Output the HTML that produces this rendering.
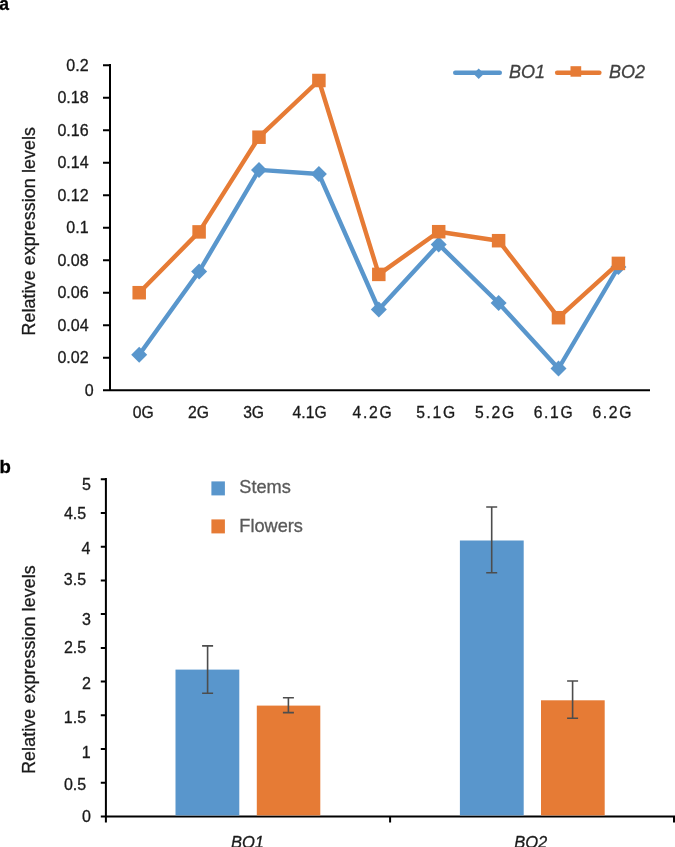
<!DOCTYPE html>
<html><head><meta charset="utf-8"><style>
html,body{margin:0;padding:0;background:#fff;}
body{width:675px;height:847px;overflow:hidden;}
text{stroke-width:0.3px;}
svg{display:block;will-change:transform;font-family:"Liberation Sans",sans-serif;}
</style></head><body>
<svg width="675" height="847" viewBox="0 0 675 847">
<text x="-0.7" y="9.6" font-size="17.5" font-weight="bold" fill="#000" stroke="#000">a</text>
<path d="M110.0 64.1V390.2M103 390.2H650" stroke="#000" stroke-width="2" fill="none"/>
<path d="M103 357.7H110.0M103 325.2H110.0M103 292.7H110.0M103 260.2H110.0M103 227.7H110.0M103 195.2H110.0M103 162.7H110.0M103 130.2H110.0M103 97.7H110.0M103 65.2H110.0" stroke="#000" stroke-width="2" fill="none"/>
<text x="93.6" y="395.9" font-size="16" text-anchor="end" fill="#1a1a1a" stroke="#1a1a1a">0</text>
<text x="88.6" y="363.4" font-size="16" text-anchor="end" fill="#1a1a1a" stroke="#1a1a1a">0.02</text>
<text x="88.6" y="330.9" font-size="16" text-anchor="end" fill="#1a1a1a" stroke="#1a1a1a">0.04</text>
<text x="88.6" y="298.4" font-size="16" text-anchor="end" fill="#1a1a1a" stroke="#1a1a1a">0.06</text>
<text x="88.6" y="265.9" font-size="16" text-anchor="end" fill="#1a1a1a" stroke="#1a1a1a">0.08</text>
<text x="88.6" y="233.4" font-size="16" text-anchor="end" fill="#1a1a1a" stroke="#1a1a1a">0.1</text>
<text x="88.6" y="200.9" font-size="16" text-anchor="end" fill="#1a1a1a" stroke="#1a1a1a">0.12</text>
<text x="88.6" y="168.4" font-size="16" text-anchor="end" fill="#1a1a1a" stroke="#1a1a1a">0.14</text>
<text x="88.6" y="135.9" font-size="16" text-anchor="end" fill="#1a1a1a" stroke="#1a1a1a">0.16</text>
<text x="88.6" y="103.4" font-size="16" text-anchor="end" fill="#1a1a1a" stroke="#1a1a1a">0.18</text>
<text x="88.6" y="70.9" font-size="16" text-anchor="end" fill="#1a1a1a" stroke="#1a1a1a">0.2</text>
<text x="143.3" y="418.0" font-size="15.7" text-anchor="middle" fill="#1a1a1a" stroke="#1a1a1a">0G</text>
<text x="198.5" y="418.0" font-size="15.7" text-anchor="middle" fill="#1a1a1a" stroke="#1a1a1a">2G</text>
<text x="253.6" y="418.0" font-size="15.7" text-anchor="middle" fill="#1a1a1a" stroke="#1a1a1a">3G</text>
<text x="309.6" y="418.0" font-size="15.7" text-anchor="middle" fill="#1a1a1a" stroke="#1a1a1a">4.1G</text>
<text x="372.1" y="418.0" font-size="15.7" text-anchor="middle" fill="#1a1a1a" stroke="#1a1a1a" textLength="39" lengthAdjust="spacing">4.2G</text>
<text x="435.7" y="418.0" font-size="15.7" text-anchor="middle" fill="#1a1a1a" stroke="#1a1a1a" textLength="39" lengthAdjust="spacing">5.1G</text>
<text x="494.6" y="418.0" font-size="15.7" text-anchor="middle" fill="#1a1a1a" stroke="#1a1a1a" textLength="39" lengthAdjust="spacing">5.2G</text>
<text x="553.2" y="418.0" font-size="15.7" text-anchor="middle" fill="#1a1a1a" stroke="#1a1a1a" textLength="39" lengthAdjust="spacing">6.1G</text>
<text x="611.9" y="418.0" font-size="15.7" text-anchor="middle" fill="#1a1a1a" stroke="#1a1a1a" textLength="39" lengthAdjust="spacing">6.2G</text>
<text transform="translate(35.1 231.3) rotate(-90)" font-size="17.8" text-anchor="middle" fill="#1a1a1a" stroke="#1a1a1a" textLength="208.5" lengthAdjust="spacing">Relative expression levels</text>
<polyline points="139.2,354.8 199.1,271.5 259.0,169.9 318.9,174.0 378.8,309.5 438.7,244.4 498.6,303.0 558.5,368.5 618.4,267.0" fill="none" stroke="#5996CC" stroke-width="4.4" stroke-linejoin="round" stroke-linecap="round"/>
<path d="M139.2 346.8l8 8l-8 8l-8 -8z" fill="#5996CC"/>
<path d="M199.1 263.5l8 8l-8 8l-8 -8z" fill="#5996CC"/>
<path d="M259.0 161.9l8 8l-8 8l-8 -8z" fill="#5996CC"/>
<path d="M318.9 166.0l8 8l-8 8l-8 -8z" fill="#5996CC"/>
<path d="M378.8 301.5l8 8l-8 8l-8 -8z" fill="#5996CC"/>
<path d="M438.7 236.4l8 8l-8 8l-8 -8z" fill="#5996CC"/>
<path d="M498.6 295.0l8 8l-8 8l-8 -8z" fill="#5996CC"/>
<path d="M558.5 360.5l8 8l-8 8l-8 -8z" fill="#5996CC"/>
<path d="M618.4 259.0l8 8l-8 8l-8 -8z" fill="#5996CC"/>
<polyline points="139.2,292.7 199.1,231.9 259.0,137.2 318.9,80.5 378.8,274.4 438.7,231.7 498.6,240.7 558.5,317.7 618.4,263.4" fill="none" stroke="#E67B35" stroke-width="4.4" stroke-linejoin="round" stroke-linecap="round"/>
<rect x="132.45" y="285.95" width="13.5" height="13.5" fill="#E67B35"/>
<rect x="192.35" y="225.15" width="13.5" height="13.5" fill="#E67B35"/>
<rect x="252.25" y="130.45" width="13.5" height="13.5" fill="#E67B35"/>
<rect x="312.15" y="73.75" width="13.5" height="13.5" fill="#E67B35"/>
<rect x="372.05" y="267.65" width="13.5" height="13.5" fill="#E67B35"/>
<rect x="431.95" y="224.95" width="13.5" height="13.5" fill="#E67B35"/>
<rect x="491.85" y="233.95" width="13.5" height="13.5" fill="#E67B35"/>
<rect x="551.75" y="310.95" width="13.5" height="13.5" fill="#E67B35"/>
<rect x="611.65" y="256.65" width="13.5" height="13.5" fill="#E67B35"/>
<path d="M455.2 72.8H499.8" stroke="#5996CC" stroke-width="4.4" stroke-linecap="round"/>
<path d="M478.7 68.4l5.3 5.3l-5.3 5.3l-5.3 -5.3z" fill="#5996CC"/>
<text x="509" y="77.6" font-size="18" font-style="italic" fill="#404040" stroke="#404040">BO1</text>
<path d="M557.1 72.7H599.4" stroke="#E67B35" stroke-width="4.4" stroke-linecap="round"/>
<rect x="570.5" y="66.2" width="10.7" height="10.5" fill="#E67B35"/>
<text x="609" y="77.6" font-size="18" font-style="italic" fill="#404040" stroke="#404040">BO2</text>
<text x="-0.6" y="472.5" font-size="18.6" font-weight="bold" fill="#000" stroke="#000">b</text>
<path d="M105.9 478.1V822.6M100.8 816.5H675M390.1 816.5V822.6M674 816.5V822.6" stroke="#000" stroke-width="2" fill="none"/>
<path d="M100.8 782.8H105.9M100.8 749.0H105.9M100.8 715.3H105.9M100.8 681.6H105.9M100.8 647.9H105.9M100.8 614.1H105.9M100.8 580.4H105.9M100.8 546.7H105.9M100.8 512.9H105.9M100.8 479.2H105.9" stroke="#000" stroke-width="2" fill="none"/>
<text x="90.8" y="822.4" font-size="16" text-anchor="end" fill="#1a1a1a" stroke="#1a1a1a">0</text>
<text x="86.2" y="790.4" font-size="16" text-anchor="end" fill="#1a1a1a" stroke="#1a1a1a">0.5</text>
<text x="90.6" y="758.0" font-size="16" text-anchor="end" fill="#1a1a1a" stroke="#1a1a1a">1</text>
<text x="86.1" y="723.4" font-size="16" text-anchor="end" fill="#1a1a1a" stroke="#1a1a1a">1.5</text>
<text x="90.8" y="689.4" font-size="16" text-anchor="end" fill="#1a1a1a" stroke="#1a1a1a">2</text>
<text x="86.2" y="653.0" font-size="16" text-anchor="end" fill="#1a1a1a" stroke="#1a1a1a">2.5</text>
<text x="90.8" y="625.2" font-size="16" text-anchor="end" fill="#1a1a1a" stroke="#1a1a1a">3</text>
<text x="86.1" y="585.0" font-size="16" text-anchor="end" fill="#1a1a1a" stroke="#1a1a1a">3.5</text>
<text x="90.5" y="554.1" font-size="16" text-anchor="end" fill="#1a1a1a" stroke="#1a1a1a">4</text>
<text x="86.2" y="518.8" font-size="16" text-anchor="end" fill="#1a1a1a" stroke="#1a1a1a">4.5</text>
<text x="90.8" y="489.8" font-size="16" text-anchor="end" fill="#1a1a1a" stroke="#1a1a1a">5</text>
<text transform="translate(35.1 669.6) rotate(-90)" font-size="17.8" text-anchor="middle" fill="#1a1a1a" stroke="#1a1a1a" textLength="208.5" lengthAdjust="spacing">Relative expression levels</text>
<rect x="175.5" y="669.6" width="63.8" height="145.8" fill="#5996CC"/>
<rect x="256.8" y="705.6" width="63.5" height="109.8" fill="#E67B35"/>
<rect x="459.9" y="540.5" width="63.8" height="274.9" fill="#5996CC"/>
<rect x="541.0" y="700.3" width="63.7" height="115.1" fill="#E67B35"/>
<path d="M207.6 645.9V693.3M202.1 645.9H213.1M202.1 693.3H213.1" stroke="#4d4d4d" stroke-width="1.6" fill="none"/>
<path d="M288.4 697.7V712.6M282.9 697.7H293.9M282.9 712.6H293.9" stroke="#4d4d4d" stroke-width="1.6" fill="none"/>
<path d="M491.7 507.0V572.8M486.2 507.0H497.2M486.2 572.8H497.2" stroke="#4d4d4d" stroke-width="1.6" fill="none"/>
<path d="M572.6 681.0V718.2M567.1 681.0H578.1M567.1 718.2H578.1" stroke="#4d4d4d" stroke-width="1.6" fill="none"/>
<rect x="211.4" y="481.4" width="13.5" height="14" fill="#5996CC"/>
<rect x="211.4" y="519.4" width="13.5" height="14" fill="#E67B35"/>
<text x="239.3" y="493.4" font-size="18.2" fill="#595959" stroke="#595959">Stems</text>
<text x="239.3" y="531.8" font-size="18.2" fill="#595959" stroke="#595959">Flowers</text>
<text x="247.4" y="847.5" font-size="16.5" font-style="italic" text-anchor="middle" fill="#1a1a1a" stroke="#1a1a1a">BO1</text>
<text x="530.7" y="847.5" font-size="16.5" font-style="italic" text-anchor="middle" fill="#1a1a1a" stroke="#1a1a1a">BO2</text>
</svg>
</body></html>
